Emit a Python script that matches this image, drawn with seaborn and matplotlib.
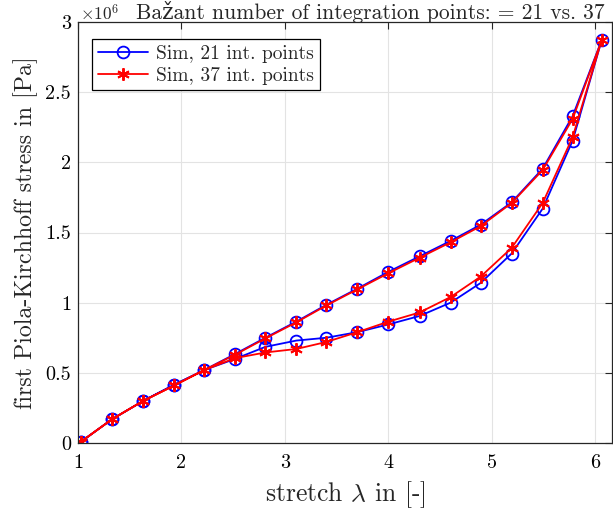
import matplotlib
matplotlib.use("Agg")
import matplotlib.pyplot as plt
import seaborn as sns
import pandas as pd
import numpy as np

# stretch values at marker positions (loading then unloading)
stretch_load = [1.03, 1.33, 1.63, 1.93, 2.22, 2.52, 2.81, 3.11, 3.40, 3.70,
                4.00, 4.30, 4.60, 4.89, 5.19, 5.49, 5.78, 6.06]
stretch_unload = [5.78, 5.49, 5.19, 4.89, 4.60, 4.30, 4.00, 3.70, 3.40, 3.11,
                  2.81, 2.52, 2.22, 1.93, 1.63, 1.33, 1.03]

# stress in 1e6 Pa
s21_load = [0.01, 0.17, 0.30, 0.415, 0.52, 0.635, 0.75, 0.865, 0.985, 1.10,
            1.22, 1.33, 1.44, 1.555, 1.715, 1.955, 2.33, 2.87]
s21_unload = [2.155, 1.67, 1.35, 1.14, 1.00, 0.905, 0.845, 0.79, 0.75, 0.73,
              0.685, 0.60, 0.52, 0.415, 0.30, 0.17, 0.01]
s37_load = [0.01, 0.17, 0.30, 0.41, 0.52, 0.63, 0.745, 0.86, 0.98, 1.095,
            1.21, 1.32, 1.43, 1.545, 1.71, 1.945, 2.31, 2.87]
s37_unload = [2.18, 1.71, 1.39, 1.185, 1.04, 0.93, 0.865, 0.79, 0.72, 0.67,
              0.645, 0.605, 0.52, 0.41, 0.30, 0.17, 0.01]

labels = ["Sim, 21 int. points", "Sim, 37 int. points"]
xticks = [1, 2, 3, 4, 5, 6]
yticks = [0, 0.5, 1, 1.5, 2, 2.5, 3]
yticklabels = ["0", "0.5", "1", "1.5", "2", "2.5", "3"]

sns.set_style("white")
plt.rcParams["font.family"] = ["cmr10", "DejaVu Serif"]
plt.rcParams["mathtext.fontset"] = "cm"
plt.rcParams["axes.formatter.use_mathtext"] = True

df = pd.concat([
    pd.DataFrame({"x": stretch_load + stretch_unload,
                  "y": s21_load + s21_unload,
                  "series": labels[0]}),
    pd.DataFrame({"x": stretch_load + stretch_unload,
                  "y": s37_load + s37_unload,
                  "series": labels[1]}),
])

fig = plt.figure(figsize=(6.13, 5.14), dpi=100)
ax = fig.add_axes([78 / 613, (514 - 443) / 514, (612 - 78) / 613, (443 - 22) / 514])

styles = {
    labels[0]: dict(color="#0000ff", marker="o", markerfacecolor="none",
                    markeredgecolor="#0000ff", markersize=8.5, markeredgewidth=1.3),
    labels[1]: dict(color="#ff0000", marker=(6, 2, 0), markeredgecolor="#ff0000",
                    markersize=9, markeredgewidth=1.4),
}
for lab in labels:
    sub = df[df.series == lab]
    sns.lineplot(data=sub, x="x", y="y", sort=False, estimator=None, ax=ax,
                 label=lab, linewidth=1.3, **styles[lab])

ax.set_xlim(1, 6.16)
ax.set_ylim(0, 3)
ax.set_xticks(xticks)
ax.set_xticklabels([str(t) for t in xticks])
ax.set_yticks(yticks)
ax.set_yticklabels(yticklabels)
ax.grid(True, color="#e3e3e3", linewidth=0.8)
ax.set_axisbelow(True)
ax.tick_params(direction="in", length=5, width=0.8, top=True, right=True,
               labelsize=14.5, colors="#262626", labelcolor="black")
ax.tick_params(axis="x", pad=8)
ax.tick_params(axis="y", pad=5)
for sp in ax.spines.values():
    sp.set_color("#262626")
    sp.set_linewidth(0.9)

ax.set_xlabel(r"stretch $\lambda$ in [-]", fontsize=18.5, labelpad=5)
ax.set_ylabel("first Piola-Kirchhoff stress in [Pa]", fontsize=17.2, labelpad=5)

fig.text(80 / 613, 1 - 13 / 514, r"$\times 10^{6}$", fontsize=12.5, ha="left", va="center")
fig.text(136 / 613, 1 - 12 / 514, "Bažant number of integration points: = 21 vs. 37",
         fontsize=15.5, ha="left", va="center")

leg = ax.legend(loc="upper left", bbox_to_anchor=(0.026, 0.96), fontsize=14,
                frameon=True, fancybox=False, framealpha=1, edgecolor="black",
                borderpad=0.3, handlelength=2.6, labelspacing=0.2, handletextpad=0.4,
                borderaxespad=0)
leg.get_frame().set_linewidth(0.9)

fig.savefig("out.png", dpi=100)
